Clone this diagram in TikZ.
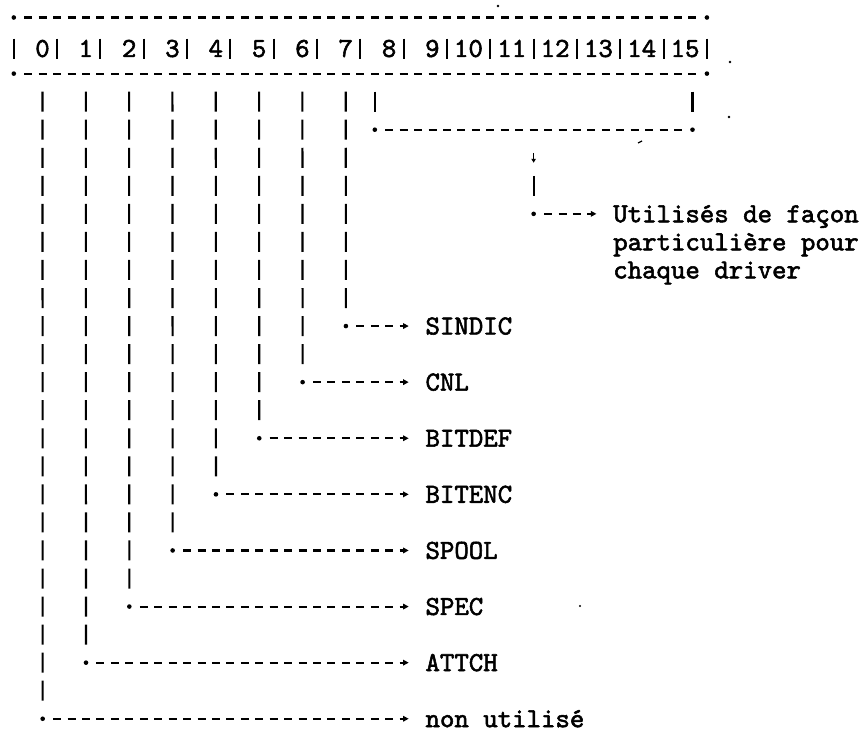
\documentclass[tikz,border=0pt]{standalone}
\usepackage{fontspec}
\newfontfamily\tw[FakeBold=2]{lmmono10-regular.otf}
\usetikzlibrary{arrows.meta}

% typewriter grid: character columns and text rows
\pgfmathdeclarefunction{colx}{1}{\pgfmathparse{13.8+14.44*(#1)}}
\pgfmathdeclarefunction{rowy}{1}{\pgfmathparse{17.5+28.05*(#1)}}

\begin{document}
\begin{tikzpicture}[x=1pt,y=-1pt,
  hdash/.style={line width=2.1pt, dash pattern=on 8pt off 6.44pt},
  vbar/.style={line width=2.1pt, dash pattern=on 20pt off 8.05pt},
  hconn/.style={hdash, -{Triangle[length=5.5pt,width=5.5pt]}},
  sep/.style={line width=2.1pt},
  dotnode/.style={circle, fill=black, inner sep=0pt, minimum size=4.6pt},
  tw/.style={font=\tw\fontsize{27.5}{28.05}\selectfont, inner sep=0pt},
  bitnum/.style={tw, anchor=base east},
  lbl/.style={tw, anchor=base west},
  speck/.style={fill=black}]
\useasboundingbox (0,0) rectangle (861,733);

% register frame
\node[dotnode] (tl) at ({colx(0)},{rowy(0)}) {};
\node[dotnode] (tr) at ({colx(48)},{rowy(0)}) {};
\node[dotnode] (bl) at ({colx(0)},{rowy(2)}) {};
\node[dotnode] (br) at ({colx(48)},{rowy(2)}) {};
\draw[hdash] ([xshift=10.44pt]tl.center) -- ([xshift=-10.44pt]tr.center);
\draw[hdash] ([xshift=10.44pt]bl.center) -- ([xshift=-10.44pt]br.center);

% bit numbers and separators
\foreach \n in {0,...,15}
  \node[bitnum] (b\n) at ({colx(3*\n+2)+7.22},{rowy(1)+11.4}) {\n};
\foreach \k in {0,...,16}
  \draw[sep] ({colx(3*\k)},{rowy(1)-7}) -- ({colx(3*\k)},{rowy(1)+13});

\coordinate (v3) at (0,{rowy(3)-10});

% single bits 0..7
\foreach \b/\R/\txt in {7/11/SINDIC,6/13/CNL,5/15/BITDEF,4/17/BITENC,
                        3/19/SPOOL,2/21/SPEC,1/23/ATTCH,0/25/non utilisé} {
  \node[dotnode] (d\b) at ({colx(3*\b+2)},{rowy(\R)}) {};
  \coordinate (t\b) at ({colx(27)+5},{rowy(\R)});
  \node[lbl] (l\b) at ({colx(29)-7.22},{rowy(\R)+8.4}) {\txt};
  \draw[vbar] (b\b.center |- v3) -- ([yshift=18.05pt]d\b.center);
  \draw[hconn] ([xshift=10.44pt]d\b.center) -- (t\b);
}

% bits 8..15 grouped
\node[dotnode] (gl) at ({colx(25)},{rowy(4)}) {};
\node[dotnode] (gr) at ({colx(47)},{rowy(4)}) {};
\draw[vbar] (gl |- v3) -- ([yshift=18.05pt]gl.center);
\draw[vbar] (gr |- v3) -- ([yshift=18.05pt]gr.center);
\draw[hdash] ([xshift=10.44pt]gl.center) -- ([xshift=-10.44pt]gr.center);

\coordinate (ua) at ({colx(36)},{rowy(5)-5});
\coordinate (ub) at ({colx(36)},{rowy(5)+5});
\draw[line width=1.6pt,-{Triangle[length=4pt,width=4.5pt]}] (ua) -- (ub);
\coordinate (p6) at ({colx(36)},{rowy(6)-10});
\node[dotnode] (du) at ({colx(36)},{rowy(7)}) {};
\draw[vbar] (p6) -- ([yshift=18.05pt]du.center);
\coordinate (tu) at ({colx(40)+5},{rowy(7)});
\draw[hconn] ([xshift=10.44pt]du.center) -- (tu);
\node[lbl] (u1) at ({colx(42)-7.22},{rowy(7)+8.4}) {Utilisés de façon};
\node[lbl] (u2) at ({colx(42)-7.22},{rowy(8)+8.4}) {particulière pour};
\node[lbl] (u3) at ({colx(42)-7.22},{rowy(9)+8.4}) {chaque driver};

% specks on the sheet
\fill[speck] (498,6) circle (1.3);
\fill[speck] (730,62) circle (1.3);
\fill[speck] (729,117) circle (1.3);
\fill[speck] (580,606) circle (1.2);
\draw[line width=1.2pt] (638,143) -- (642,141);
\end{tikzpicture}
\end{document}
